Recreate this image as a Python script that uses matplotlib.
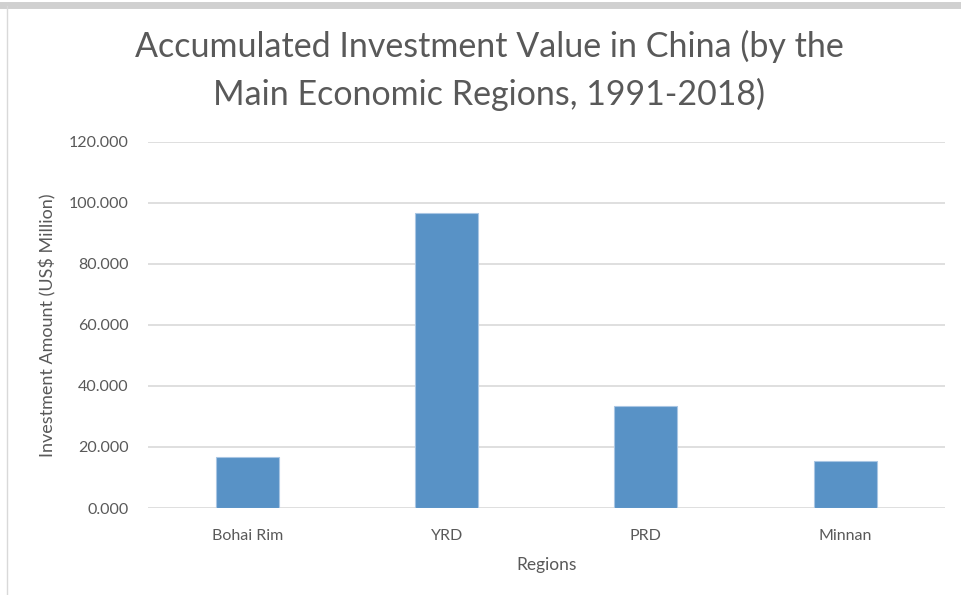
import matplotlib
matplotlib.use("Agg")
import matplotlib.pyplot as plt
from matplotlib.lines import Line2D

regions = ["Bohai Rim", "YRD", "PRD", "Minnan"]
investment = [16.6, 96.5, 33.5, 15.3]
yticks = [0, 20, 40, 60, 80, 100, 120]

plt.rcParams['font.family'] = ['Lato', 'DejaVu Sans']

fig = plt.figure(figsize=(9.61, 5.95), dpi=100)
ax = fig.add_axes([0.154, 0.1462, 0.829, 0.6156])

x = range(len(regions))
ax.bar(x, investment, width=0.316, color='#5892C6', edgecolor='#a9c6e3',
       linewidth=0.8, zorder=3)

ax.set_xlim(-0.5, len(regions) - 0.5)
ax.set_ylim(0, 120)
ax.set_yticks(yticks)
ax.set_yticklabels([f"{v:.3f}" for v in yticks])
ax.set_xticks(list(x))
ax.set_xticklabels(regions)

ax.grid(axis='y', color='#d9d9d9', linewidth=1.2, zorder=0)
for s in ax.spines.values():
    s.set_visible(False)
ax.tick_params(length=0, colors='#595959', labelsize=11.5)
ax.tick_params(axis='y', pad=14)
ax.tick_params(axis='x', pad=15)

ax.set_ylabel("Investment Amount (US$ Million)", fontsize=13, color='#595959',
              labelpad=9)
ax.set_xlabel("Regions", fontsize=12.5, color='#595959', labelpad=10)

fig.text(0.509, 0.882, "Accumulated Investment Value in China (by the\nMain Economic Regions, 1991-2018)",
         ha='center', va='center', fontsize=24.5, color='#595959', linespacing=1.55)

# screenshot border
fig.add_artist(Line2D([0, 1], [0.992, 0.992], transform=fig.transFigure,
                      color='#d0d0d0', linewidth=5))
fig.add_artist(Line2D([0.007, 0.007], [0, 0.99], transform=fig.transFigure,
                      color='#d9d9d9', linewidth=1))

fig.savefig("out.png", dpi=100)
